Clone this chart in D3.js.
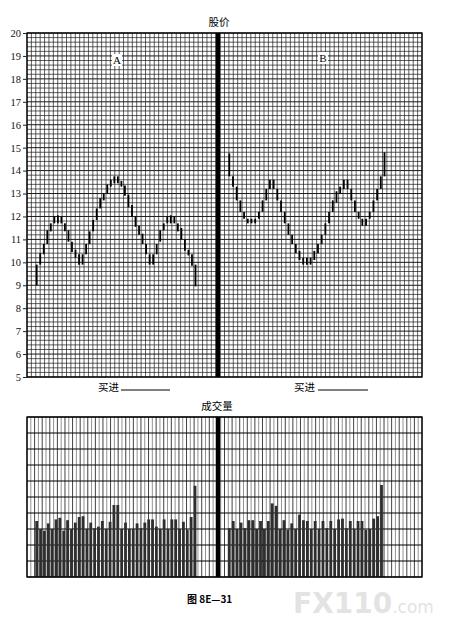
<!DOCTYPE html>
<html><head><meta charset="utf-8">
<script src="https://cdn.jsdelivr.net/npm/d3@7/dist/d3.min.js"></script>
<style>body{margin:0;background:#fff;}svg{display:block;}</style>
</head><body>
<svg id="c" width="462" height="641"></svg>
<script>
// ---- data ----
const priceTicks = [5,6,7,8,9,10,11,12,13,14,15,16,17,18,19,20];
const lowA  = [9.0,9.9,10.35,10.8,11.35,11.7,11.7,11.7,11.35,10.9,10.45,10.2,9.9,9.9,10.35,10.8,11.35,11.85,12.35,12.7,13.0,13.3,13.45,13.45,13.3,12.9,12.4,12.0,11.55,11.2,10.8,10.35,9.9,9.9,10.35,10.9,11.4,11.7,11.7,11.7,11.35,11.0,10.5,10.3,9.85,8.95];
const highA = [9.9,10.4,10.8,11.4,11.7,12.0,12.05,12.0,11.7,11.4,10.9,10.55,10.35,10.35,10.8,11.35,11.85,12.35,12.8,13.0,13.4,13.6,13.75,13.75,13.55,13.35,12.95,12.5,12.0,11.6,11.25,10.8,10.35,10.35,10.8,11.4,11.7,12.0,12.05,12.0,11.7,11.5,11.0,10.55,10.35,9.9];
const lowB  = [13.75,13.3,12.7,12.2,11.9,11.7,11.7,11.7,11.9,12.2,12.7,13.2,13.2,12.7,12.2,11.7,11.2,10.8,10.4,10.1,9.9,9.9,9.9,10.1,10.4,10.8,11.2,11.7,12.2,12.6,13.0,13.2,13.2,12.7,12.2,11.9,11.6,11.6,11.9,12.2,12.7,13.2,13.75];
const highB = [14.75,13.75,13.3,12.7,12.2,11.9,11.9,11.9,12.2,12.7,13.2,13.6,13.6,13.2,12.7,12.2,11.7,11.2,10.8,10.5,10.2,10.2,10.2,10.5,10.8,11.2,11.7,12.2,12.7,13.1,13.3,13.6,13.6,13.2,12.7,12.2,11.9,11.9,12.2,12.7,13.2,13.75,14.8];
const volA = [3.5,3.0,2.9,3.35,3.0,3.6,3.7,2.9,3.55,3.0,3.4,3.75,3.8,3.0,3.4,3.05,3.15,3.5,3.0,3.45,4.5,4.5,3.0,3.4,3.0,3.0,3.35,3.05,3.4,3.6,3.6,3.15,3.0,3.6,3.0,3.6,3.6,3.0,3.45,2.95,3.75,5.7];
const volB = [3.05,3.5,3.0,3.4,3.05,3.55,3.55,3.0,3.5,3.0,3.5,4.6,4.45,3.0,3.55,2.95,3.35,3.0,3.9,3.55,3.5,3.0,3.5,3.0,3.5,3.05,3.5,3.0,3.6,3.65,3.05,3.5,3.0,3.5,3.5,2.95,3.0,3.65,3.8,5.75];
const panelLabels = ["A","B"];
const titlePrice = "股价", titleVol = "成交量", buyLabel = "买进", figLabel = "图 8E—31";

// ---- layout ----
const svg = d3.select("#c");
const L = 27, R = 422, PT = 33, PB = 377, VT = 417, VB = 577, divX = 218;
const y = d3.scaleLinear().domain([5,20]).range([PB,PT]);
const yv = d3.scaleLinear().domain([0,10]).range([VB,VT]);
const xA = d3.scaleLinear().domain([0,lowA.length-1]).range([36.7,195.5]);
const xB = d3.scaleLinear().domain([0,lowB.length-1]).range([229.3,384.5]);
const xvA = d3.scaleLinear().domain([0,volA.length-1]).range([36.7,195]);
const xvB = d3.scaleLinear().domain([0,volB.length-1]).range([229.3,381.5]);
const gx = d3.scaleLinear().domain([0,90]).range([L,R]);
const gxv = d3.scaleLinear().domain([0,104]).range([L,R]);

// ---- price grid ----
const pg = svg.append("g");
pg.selectAll("line.h").data(d3.range(0,76)).join("line")
  .attr("x1",L).attr("x2",R)
  .attr("y1",d=>y(5+d*0.2)).attr("y2",d=>y(5+d*0.2))
  .attr("stroke","#1a1a1a").attr("stroke-width",d=>d%5===0?1:0.7);
pg.selectAll("line.v").data(d3.range(0,91)).join("line")
  .attr("y1",PT).attr("y2",PB)
  .attr("x1",d=>gx(d)).attr("x2",d=>gx(d))
  .attr("stroke","#1a1a1a").attr("stroke-width",0.7);
svg.append("rect").attr("x",L).attr("y",PT).attr("width",R-L).attr("height",PB-PT)
  .attr("fill","none").attr("stroke","#000").attr("stroke-width",1.3);

// y axis
const ax = svg.append("g").attr("transform",`translate(${L},0)`)
  .call(d3.axisLeft(y).tickValues(priceTicks).tickSize(4).tickPadding(2).tickFormat(d3.format("d")));
ax.select(".domain").remove();
ax.selectAll("text").attr("font-family","'Liberation Serif',serif").attr("font-size",10.5).attr("fill","#111");
ax.selectAll("line").attr("stroke","#222");

// price bars
function bars(lo,hi,x){
  svg.append("g").selectAll("line").data(lo.map((l,i)=>({l,h:hi[i],i}))).join("line")
    .attr("x1",d=>x(d.i)).attr("x2",d=>x(d.i))
    .attr("y1",d=>y(d.l)).attr("y2",d=>y(d.h))
    .attr("stroke","#000").attr("stroke-width",1.8);
}
bars(lowA,highA,xA);
bars(lowB,highB,xB);

// divider
svg.append("line").attr("x1",divX).attr("x2",divX).attr("y1",PT).attr("y2",PB)
  .attr("stroke","#000").attr("stroke-width",4.5);

// panel labels
[[117,60],[323,58]].forEach((p,i)=>{
  svg.append("rect").attr("x",p[0]-5).attr("y",p[1]-6).attr("width",10).attr("height",12).attr("fill","#fff");
  svg.append("text").attr("x",p[0]).attr("y",p[1]+4).attr("text-anchor","middle")
    .attr("font-family","'Liberation Serif',serif").attr("font-size",11).text(panelLabels[i]);
});

const cjk = "'Noto Sans CJK SC','Noto Sans',sans-serif";
svg.append("text").attr("x",219).attr("y",26).attr("text-anchor","middle")
  .attr("font-family",cjk).attr("font-size",10.5).text(titlePrice);
[[98,121,170],[294,318,368]].forEach(p=>{
  svg.append("text").attr("x",p[0]).attr("y",391).attr("font-family",cjk).attr("font-size",10.5).text(buyLabel);
  svg.append("line").attr("x1",p[1]).attr("x2",p[2]).attr("y1",390).attr("y2",390).attr("stroke","#000").attr("stroke-width",1);
});
svg.append("text").attr("x",217).attr("y",410).attr("text-anchor","middle")
  .attr("font-family",cjk).attr("font-size",10.5).text(titleVol);

// ---- volume grid ----
const vg = svg.append("g");
vg.selectAll("line.v").data(d3.range(0,105)).join("line")
  .attr("y1",VT).attr("y2",VB).attr("x1",d=>gxv(d)).attr("x2",d=>gxv(d))
  .attr("stroke",d=>d%2?"#777":"#111").attr("stroke-width",0.8);
vg.selectAll("line.h").data(d3.range(0,11)).join("line")
  .attr("x1",L).attr("x2",R).attr("y1",d=>yv(d)).attr("y2",d=>yv(d))
  .attr("stroke","#000").attr("stroke-width",1);

function vbars(v,x){
  svg.append("g").selectAll("rect").data(v).join("rect")
    .attr("x",(d,i)=>x(i)-1.4).attr("width",2.8)
    .attr("y",d=>yv(d)).attr("height",d=>yv(0)-yv(d))
    .attr("fill","#2e2e2e");
}
vbars(volA,xvA);
vbars(volB,xvB);
svg.append("rect").attr("x",L).attr("y",VT).attr("width",R-L).attr("height",VB-VT)
  .attr("fill","none").attr("stroke","#000").attr("stroke-width",1.3);
svg.append("line").attr("x1",divX).attr("x2",divX).attr("y1",VT).attr("y2",VB)
  .attr("stroke","#000").attr("stroke-width",4.5);

// caption
svg.append("text").attr("x",187).attr("y",603).attr("font-family","'Noto Sans CJK SC',serif")
  .attr("font-weight","bold").attr("font-size",10).text(figLabel);

// watermark
const wm = svg.append("text").attr("x",293).attr("y",613).attr("fill","#e3e3e3")
  .attr("font-family","'DejaVu Sans',sans-serif").attr("font-weight","bold");
wm.append("tspan").attr("font-size",28).text("FX110");
wm.append("tspan").attr("font-size",17).attr("font-weight","normal").text(".com");
</script>
</body></html>
